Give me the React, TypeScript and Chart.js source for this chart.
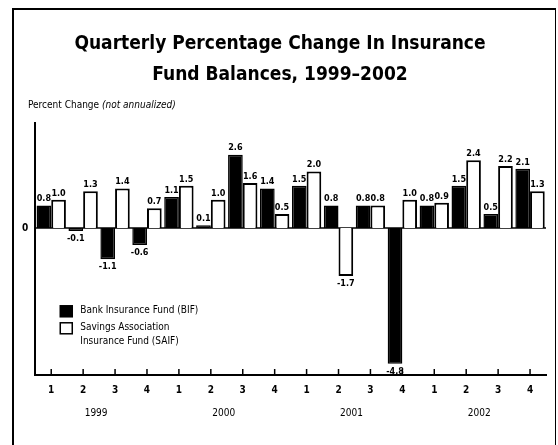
import React, { useEffect, useRef } from "react";
import { Chart, registerables } from "chart.js";

Chart.register(...registerables);

const quarterLabels = ["1", "2", "3", "4", "1", "2", "3", "4", "1", "2", "3", "4", "1", "2", "3", "4"];
const yearLabels = ["1999", "2000", "2001", "2002"];
const bifValues = [0.8, -0.1, -1.1, -0.6, 1.1, 0.1, 2.6, 1.4, 1.5, 0.8, 0.8, -4.8, 0.8, 1.5, 0.5, 2.1];
const saifValues = [1.0, 1.3, 1.4, 0.7, 1.5, 1.0, 1.6, 0.5, 2.0, -1.7, 0.8, 1.0, 0.9, 2.4, 2.2, 1.3];
const seriesNames = ["Bank Insurance Fund (BIF)", "Savings Association\nInsurance Fund (SAIF)"];

const FONT = "'Liberation Sans Narrow', 'Arial Narrow', 'DejaVu Sans Condensed', sans-serif";

const decorPlugin = {
  id: "decor",
  beforeDatasetsDraw(chart: any) {
    const { ctx, chartArea, scales } = chart;
    const y0 = scales.y.getPixelForValue(0);
    ctx.save();
    ctx.strokeStyle = "#000";
    ctx.lineWidth = 1.5;
    ctx.beginPath();
    ctx.moveTo(chartArea.left, y0);
    ctx.lineTo(chartArea.right, y0);
    ctx.stroke();
    ctx.restore();
  },
  afterDatasetsDraw(chart: any) {
    const { ctx, chartArea, scales } = chart;
    ctx.save();
    ctx.fillStyle = "#000";
    ctx.font = `bold 9px ${FONT}`;
    ctx.textAlign = "center";
    chart.data.datasets.forEach((ds: any, di: number) => {
      const meta = chart.getDatasetMeta(di);
      meta.data.forEach((bar: any, i: number) => {
        const v = ds.data[i];
        const txt = v.toFixed(1);
        if (v >= 0) {
          ctx.textBaseline = "bottom";
          ctx.fillText(txt, bar.x, bar.y - 2);
        } else {
          ctx.textBaseline = "top";
          ctx.fillText(txt, bar.x, bar.y + 3);
        }
      });
    });
    // upward tick marks on x axis
    const xs = scales.x;
    ctx.strokeStyle = "#000";
    ctx.lineWidth = 1.5;
    quarterLabels.forEach((_, i) => {
      const x = xs.getPixelForValue(i);
      ctx.beginPath();
      ctx.moveTo(x, chartArea.bottom);
      ctx.lineTo(x, chartArea.bottom - 6);
      ctx.stroke();
    });
    // year labels
    ctx.font = `10px ${FONT}`;
    ctx.textBaseline = "middle";
    yearLabels.forEach((yr, k) => {
      const x = xs.getPixelForValue(k * 4 + 1.5);
      ctx.fillText(yr, x - 3, chartArea.bottom + 38);
    });
    // legend
    const lx = chartArea.left + 25;
    const ly = scales.y.getPixelForValue(-2.75);
    chart.data.datasets.forEach((ds: any, di: number) => {
      const by = ly + di * 17;
      ctx.fillStyle = ds.backgroundColor;
      ctx.fillRect(lx, by, 12, 11);
      ctx.strokeStyle = "#000";
      ctx.lineWidth = 1.5;
      ctx.strokeRect(lx, by, 12, 11);
      ctx.fillStyle = "#000";
      ctx.font = `10px ${FONT}`;
      ctx.textAlign = "left";
      ctx.textBaseline = "middle";
      String(ds.label).split("\n").forEach((line, li) => {
        ctx.fillText(line, lx + 20, by + 5 + li * 14);
      });
    });
    ctx.restore();
  },
};

export default function App() {
  const canvasRef = useRef<HTMLCanvasElement | null>(null);

  useEffect(() => {
    document.body.style.margin = "0";
    const canvas = canvasRef.current;
    if (!canvas) return;
    const chart = new Chart(canvas, {
      type: "bar",
      data: {
        labels: quarterLabels,
        datasets: [
          {
            label: seriesNames[0],
            data: bifValues,
            backgroundColor: "#000000",
            borderColor: "#000000",
            borderWidth: 1.5,
            categoryPercentage: 0.92,
            barPercentage: 1.0,
          },
          {
            label: seriesNames[1],
            data: saifValues,
            backgroundColor: "#ffffff",
            borderColor: "#000000",
            borderWidth: 2,
            categoryPercentage: 0.92,
            barPercentage: 1.0,
          },
        ],
      },
      options: {
        animation: false,
        responsive: false,
        maintainAspectRatio: false,
        layout: { padding: { left: 15, top: 123, right: 12, bottom: 40 } },
        plugins: {
          legend: { display: false },
          title: { display: false },
          tooltip: { enabled: false },
        },
        scales: {
          x: {
            grid: { display: false, drawTicks: false },
            border: { display: true, color: "#000", width: 2 },
            ticks: {
              color: "#000",
              font: { family: FONT, size: 10, weight: "bold" },
              padding: 9,
              maxRotation: 0,
              autoSkip: false,
            },
          },
          y: {
            min: -5.2,
            max: 3.72,
            grid: { display: false, drawTicks: false },
            border: { display: true, color: "#000", width: 2 },
            ticks: {
              stepSize: 1,
              autoSkip: false,
              color: "#000",
              padding: 7,
              font: { family: FONT, size: 10, weight: "bold" },
              callback: (v: any) => (Number(v) === 0 ? "0" : ""),
            },
          },
        },
      } as any,
      plugins: [decorPlugin],
    });
    return () => chart.destroy();
  }, []);

  return (
    <div style={{ position: "relative", width: 558, height: 445, overflow: "hidden", background: "#fff" }}>
      <div
        style={{
          position: "absolute",
          left: 12,
          top: 8,
          width: 541,
          height: 460,
          borderLeft: "2px solid #000",
          borderTop: "2px solid #000",
          borderRight: "1px solid #000",
        }}
      />
      <canvas ref={canvasRef} width={558} height={445} style={{ position: "absolute", left: 0, top: 0 }} />
      <div
        style={{
          position: "absolute",
          left: 0,
          top: 27,
          width: 560,
          textAlign: "center",
          fontFamily: FONT,
          fontWeight: "bold",
          fontSize: 19,
          lineHeight: "31px",
          color: "#000",
        }}
      >
        Quarterly Percentage Change In Insurance
        <br />
        Fund Balances, 1999–2002
      </div>
      <div
        style={{
          position: "absolute",
          left: 28,
          top: 99,
          fontFamily: FONT,
          fontSize: 10,
          color: "#000",
          whiteSpace: "nowrap",
        }}
      >
        Percent Change <i>(not annualized)</i>
      </div>
    </div>
  );
}
